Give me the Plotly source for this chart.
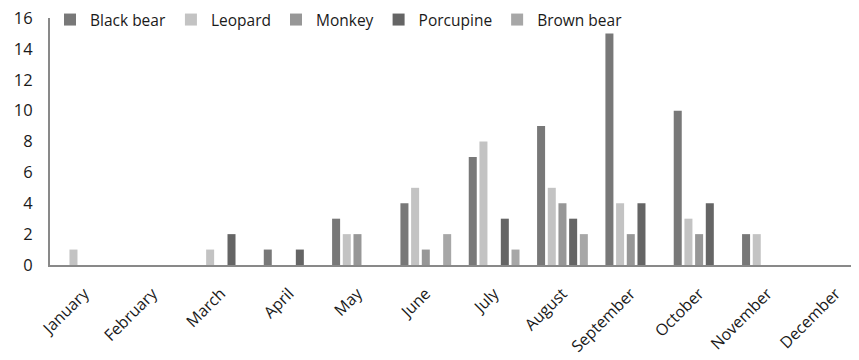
import plotly.graph_objects as go

months = ["January", "February", "March", "April", "May", "June", "July",
          "August", "September", "October", "November", "December"]
black_bear = [0, 0, 0, 1, 3, 4, 7, 9, 15, 10, 2, 0]
leopard = [1, 0, 1, 0, 2, 5, 8, 5, 4, 3, 2, 0]
monkey = [0, 0, 0, 0, 2, 1, 0, 4, 2, 2, 0, 0]
porcupine = [0, 0, 2, 1, 0, 0, 3, 3, 4, 4, 0, 0]
brown_bear = [0, 0, 0, 0, 0, 2, 1, 2, 0, 0, 0, 0]

series = [
    ("Black bear", black_bear, "#787878"),
    ("Leopard", leopard, "#c3c3c3"),
    ("Monkey", monkey, "#979797"),
    ("Porcupine", porcupine, "#656565"),
    ("Brown bear", brown_bear, "#a7a7a7"),
]

fig = go.Figure()
for name, vals, col in series:
    fig.add_trace(go.Bar(x=months, y=vals, name=name, marker_color=col,
                         marker_line_width=0))

fig.update_layout(
    width=851, height=352,
    margin=dict(l=42, r=0, t=10, b=95, autoexpand=False),
    paper_bgcolor="white", plot_bgcolor="white",
    barmode="group", bargap=0.218, bargroupgap=0.25,
    font=dict(family="Open Sans, Liberation Sans, sans-serif", size=16, color="#1a1a1a"),
    legend=dict(orientation="h", x=0, y=0.992, xanchor="left", yanchor="middle",
                font=dict(size=15.5, color="#1a1a1a"),
                bgcolor="rgba(0,0,0,0)", borderwidth=0),
    showlegend=True,
)
fig.update_xaxes(range=[-0.5, 11.34], showline=True, linecolor="#898989", linewidth=2,
                 ticks="", tickangle=-45, tickfont=dict(size=16, color="#1a1a1a"),
                 showgrid=False, ticklabelstandoff=11)
fig.update_yaxes(range=[0, 16], dtick=2, showline=True, linecolor="#898989",
                 linewidth=2, ticks="", showgrid=False, zeroline=False,
                 ticklabeloverflow="allow",
                 tickfont=dict(size=16.5, color="#1a1a1a"), ticklabelstandoff=12)

fig.write_html("out.html")
